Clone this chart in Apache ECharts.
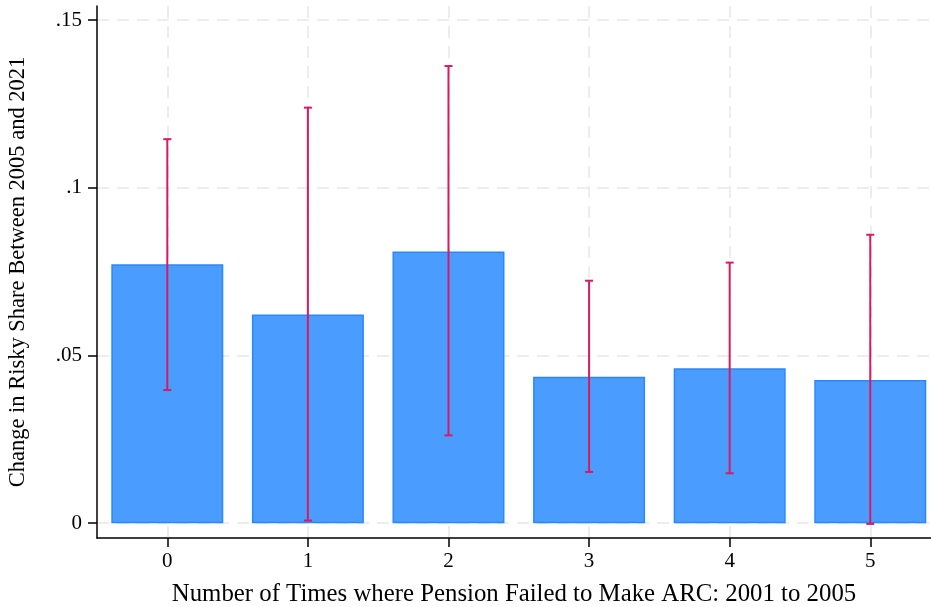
<!DOCTYPE html>
<html>
<head>
<meta charset="utf-8">
<script src="https://cdn.jsdelivr.net/npm/echarts@6/dist/echarts.min.js"></script>
<style>
html,body{margin:0;padding:0;background:#fff;}
#chart{width:931px;height:607px;}
</style>
</head>
<body>
<div id="chart"></div>
<script>
const categories = [0, 1, 2, 3, 4, 5];
const meanValues = [0.0772, 0.0622, 0.0810, 0.0437, 0.0462, 0.0427];
const ciLower = [0.0397, 0.0008, 0.0262, 0.0153, 0.0149, -0.0002];
const ciUpper = [0.1145, 0.1239, 0.1363, 0.0723, 0.0777, 0.0860];
const yTickValues = [0, 0.05, 0.1, 0.15];
const yTickLabels = ['0', '.05', '.1', '.15'];

const font = '"Liberation Serif", "Times New Roman", serif';
const chart = echarts.init(document.getElementById('chart'));

const barData = categories.map((c, i) => [c, meanValues[i]]);
const errData = categories.map((c, i) => [c, ciLower[i], ciUpper[i]]);

chart.setOption({
  animation: false,
  backgroundColor: '#ffffff',
  grid: { left: 97, right: 0, top: 6, bottom: 69, outerBoundsMode: 'none', containLabel: false },
  xAxis: {
    type: 'value',
    min: -0.5, max: 5.432,
    name: 'Number of Times where Pension Failed to Make ARC: 2001 to 2005',
    nameLocation: 'middle',
    nameGap: 44,
    nameTextStyle: { fontFamily: font, fontSize: 24.8, color: '#000' },
    axisLine: { show: true, onZero: false, lineStyle: { color: '#000', width: 1.5 } },
    axisTick: { show: true, length: 9, customValues: categories, lineStyle: { color: '#000', width: 1.5 } },
    axisLabel: { customValues: categories, fontFamily: font, fontSize: 21, color: '#000', margin: 13 },
    splitLine: { show: true, lineStyle: { color: '#e8e8e8', width: 1.5, type: [12, 8] } }
  },
  yAxis: {
    type: 'value',
    min: -0.0044, max: 0.1542,
    name: 'Change in Risky Share Between 2005 and 2021',
    nameLocation: 'middle',
    nameGap: 67,
    nameTextStyle: { fontFamily: font, fontSize: 22.5, color: '#000' },
    axisLine: { show: true, onZero: false, lineStyle: { color: '#000', width: 1.5 } },
    axisTick: { show: true, length: 9, customValues: yTickValues, lineStyle: { color: '#000', width: 1.5 } },
    axisLabel: {
      customValues: yTickValues, fontFamily: font, fontSize: 21, color: '#000', margin: 15,
      formatter: v => { const i = yTickValues.findIndex(t => Math.abs(t - v) < 1e-9); return i >= 0 ? yTickLabels[i] : ''; }
    },
    splitLine: { show: true, lineStyle: { color: '#e8e8e8', width: 1.5, type: [12, 8] } }
  },
  series: [
    {
      type: 'bar',
      data: barData,
      barWidth: 112,
      itemStyle: { color: '#4a9cff', borderColor: '#2a88ff', borderWidth: 1.5 },
      z: 2
    },
    {
      type: 'custom',
      data: errData,
      z: 3,
      renderItem: function (params, api) {
        const x = api.value(0);
        const lo = api.coord([x, api.value(1)]);
        const hi = api.coord([x, api.value(2)]);
        const cap = 4;
        const style = { stroke: '#d81b60', lineWidth: 2 };
        return {
          type: 'group',
          children: [
            { type: 'line', shape: { x1: lo[0], y1: lo[1], x2: hi[0], y2: hi[1] }, style: style },
            { type: 'line', shape: { x1: lo[0] - cap, y1: lo[1], x2: lo[0] + cap, y2: lo[1] }, style: style },
            { type: 'line', shape: { x1: hi[0] - cap, y1: hi[1], x2: hi[0] + cap, y2: hi[1] }, style: style }
          ]
        };
      }
    }
  ]
});
</script>
</body>
</html>
